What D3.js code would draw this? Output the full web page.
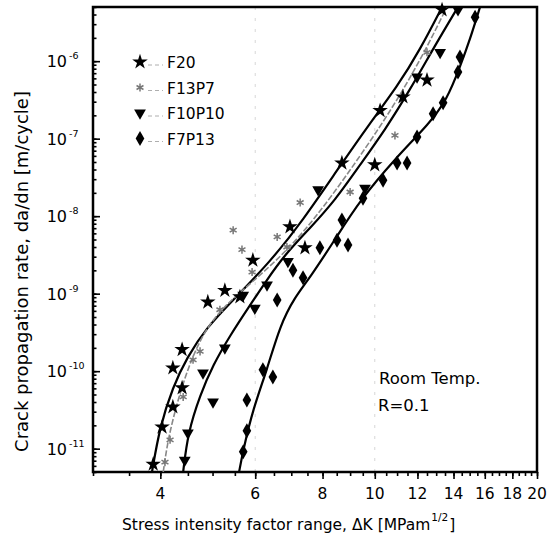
<!DOCTYPE html>
<html>
<head>
<meta charset="utf-8">
<script src="https://cdn.jsdelivr.net/npm/d3@7"></script>
<style>
  body { margin: 0; background: #fff; overflow: hidden; }
  svg { display: block; }
</style>
</head>
<body>
<svg id="chart" width="556" height="551"></svg>
<script>
// series labels, same order as the legend
const seriesNames = ["F20", "F13P7", "F10P10", "F7P13"];

// measured points: stress intensity range (MPa m^1/2) and crack rate (m/cycle)
const f20K    = [3.88, 4.03, 4.22, 4.39, 4.22, 4.39, 4.90, 5.27, 5.62, 5.94, 6.96, 7.42, 8.69, 10.0, 10.23, 11.28, 12.5, 13.33];
const f20Rate = [6.3e-12, 1.9e-11, 3.45e-11, 6.1e-11, 1.1e-10, 1.9e-10, 7.8e-10, 1.1e-9, 9.1e-10, 2.7e-9, 7.3e-9, 3.9e-9, 4.85e-8, 4.6e-8, 2.3e-7, 3.45e-7, 5.7e-7, 4.6e-6];

const f13K    = [4.08, 4.17, 4.41, 4.60, 4.74, 5.16, 5.46, 5.67, 5.92, 6.59, 6.87, 7.27, 9.0, 10.9, 12.5];
const f13Rate = [6.7e-12, 1.3e-11, 4.65e-11, 1.4e-10, 1.8e-10, 6.2e-10, 6.6e-9, 3.7e-9, 1.9e-9, 5.4e-9, 4.0e-9, 1.5e-8, 2.05e-8, 1.1e-7, 1.3e-6];

const f10K    = [4.44, 4.50, 5.01, 4.80, 5.27, 5.99, 5.70, 6.31, 6.90, 7.85, 9.59, 11.98, 13.22, 14.27];
const f10Rate = [7.1e-12, 1.6e-11, 4.0e-11, 9.5e-11, 2.0e-10, 6.5e-10, 9.6e-10, 1.3e-9, 2.6e-9, 2.2e-8, 2.3e-8, 6.25e-7, 1.3e-6, 4.6e-6];

const f7K    = [5.70, 5.79, 5.79, 6.20, 6.47, 6.59, 7.05, 7.36, 7.91, 8.51, 8.92, 8.69, 9.51, 10.36, 11.0, 11.48, 11.98, 12.83, 13.39, 14.27, 14.39, 15.35];
const f7Rate = [9.1e-12, 1.7e-11, 4.25e-11, 1.04e-10, 8.4e-11, 8.3e-10, 2.0e-9, 1.6e-9, 3.9e-9, 4.9e-9, 4.25e-9, 8.9e-9, 1.7e-8, 2.9e-8, 4.85e-8, 4.85e-8, 1.05e-7, 2.1e-7, 2.9e-7, 7.25e-7, 1.13e-6, 3.7e-6];

// fitted curves
const f20FitK    = [3.86, 3.99, 4.22, 4.48, 4.88, 5.46, 6.39, 7.36, 8.51, 9.80, 11.0, 12.13, 13.33];
const f20FitRate = [5e-12, 1.9e-11, 6.25e-11, 1.5e-10, 3.7e-10, 8.3e-10, 2.56e-9, 8.9e-9, 3.9e-8, 1.6e-7, 4.65e-7, 1.4e-6, 5e-6];

const f13FitK    = [4.05, 4.13, 4.31, 4.54, 4.84, 5.27, 5.99, 6.96, 7.91, 9.0, 10.23, 11.38, 12.55, 13.61];
const f13FitRate = [5e-12, 1.3e-11, 4.25e-11, 1.3e-10, 3.4e-10, 7.1e-10, 1.5e-9, 3.9e-9, 1.13e-8, 3.9e-8, 1.42e-7, 4.65e-7, 1.6e-6, 5e-6];

const f10FitK    = [4.41, 4.50, 4.74, 5.01, 5.39, 5.87, 6.26, 6.81, 7.58, 8.44, 9.39, 10.45, 11.62, 12.94, 14.27];
const f10FitRate = [5e-12, 1.6e-11, 4.9e-11, 1.2e-10, 2.9e-10, 7.1e-10, 1.4e-9, 3.2e-9, 7.0e-9, 1.6e-8, 4.6e-8, 1.3e-7, 4.25e-7, 1.6e-6, 5e-6];

const f7FitK    = [5.60, 5.70, 5.94, 6.31, 6.67, 7.11, 7.58, 8.51, 9.39, 10.90, 12.66, 13.61, 14.39, 15.02, 15.68];
const f7FitRate = [5e-12, 9.6e-12, 3.2e-11, 1.04e-10, 3.9e-10, 9.1e-10, 1.6e-9, 5.5e-9, 1.6e-8, 5.5e-8, 1.6e-7, 3.2e-7, 8.4e-7, 1.9e-6, 5e-6];

// axis ticks
const xTickLabels = [4, 6, 8, 10, 12, 14, 16, 18, 20];
const yDecades = [-11, -10, -9, -8, -7, -6];

const width = 556;
const height = 551;
const margin = { top: 7, right: 19, bottom: 79, left: 93 };
const innerWidth = width - margin.left - margin.right;
const innerHeight = height - margin.top - margin.bottom;
const font = "'DejaVu Sans', sans-serif";

const svg = d3.select("#chart");
const g = svg.append("g").attr("transform", `translate(${margin.left},${margin.top})`);

const x = d3.scaleLog().domain([3, 20]).range([0, innerWidth]);
const y = d3.scaleLog().domain([5e-12, 5e-6]).range([innerHeight, 0]);

// faint dashed vertical grid, like the scanned original
g.append("g").selectAll("line")
  .data([6, 10])
  .enter().append("line")
  .attr("x1", d => x(d)).attr("x2", d => x(d))
  .attr("y1", 0).attr("y2", innerHeight)
  .attr("stroke", "#bbb").attr("stroke-width", 0.6)
  .attr("stroke-dasharray", "3,8");

// y axis: minor log ticks inward
const yMinor = [];
yDecades.concat([-12]).forEach(e => {
  for (let m = 1; m <= 9; m++) {
    const v = m * Math.pow(10, e);
    if (v >= 5e-12 && v <= 5e-6) yMinor.push(v);
  }
});
g.append("g")
  .call(d3.axisLeft(y).tickValues(yMinor).tickSize(-3.5).tickFormat(""))
  .call(a => a.select(".domain").remove());
g.append("g")
  .call(d3.axisLeft(y).tickValues(yDecades.map(e => Math.pow(10, e))).tickSize(-7).tickFormat(""))
  .call(a => a.select(".domain").remove());

// y tick labels: "10" plus a separate superscript exponent
g.append("g").selectAll("text")
  .data(yDecades)
  .enter().append("text")
  .attr("x", -26)
  .attr("y", d => y(Math.pow(10, d)) + 6)
  .attr("text-anchor", "end")
  .attr("font-family", font)
  .attr("font-size", 16)
  .text("10");
g.append("g").selectAll("text")
  .data(yDecades)
  .enter().append("text")
  .attr("x", -24)
  .attr("y", d => y(Math.pow(10, d)) - 2)
  .attr("font-family", font)
  .attr("font-size", 9.5)
  .text(d => d);

// x axis: ticks every 0.5 outward, longer ticks at labels
const xMinor = d3.range(3, 20.01, 0.5);
g.append("g")
  .attr("transform", `translate(0,${innerHeight})`)
  .call(d3.axisBottom(x).tickValues(xMinor).tickSize(4).tickFormat(""))
  .call(a => a.select(".domain").remove());
g.append("g")
  .attr("transform", `translate(0,${innerHeight})`)
  .call(d3.axisBottom(x).tickValues(xTickLabels).tickSize(7).tickFormat(""))
  .call(a => a.select(".domain").remove());

g.selectAll(".tick line").attr("stroke", "#000").attr("stroke-width", 1.6);

// x tick labels as plain text
g.append("g").selectAll("text")
  .data(xTickLabels)
  .enter().append("text")
  .attr("x", d => x(d))
  .attr("y", innerHeight + 27)
  .attr("text-anchor", "middle")
  .attr("font-family", font)
  .attr("font-size", 15.5)
  .text(d => d);

// frame
g.append("rect")
  .attr("width", innerWidth).attr("height", innerHeight)
  .attr("fill", "none").attr("stroke", "#000").attr("stroke-width", 2.5);

// fitted curves
const line = d3.line()
  .x(d => x(d[0])).y(d => y(d[1]))
  .curve(d3.curveBasis);
const zip = (a, b) => a.map((v, i) => [v, b[i]]);

const fits = [
  { pts: zip(f20FitK, f20FitRate), color: "#000", w: 2.2, dash: null },
  { pts: zip(f13FitK, f13FitRate), color: "#888", w: 1.6, dash: "6,2" },
  { pts: zip(f10FitK, f10FitRate), color: "#000", w: 2.2, dash: null },
  { pts: zip(f7FitK, f7FitRate), color: "#000", w: 2.2, dash: null }
];
svg.append("defs").append("clipPath").attr("id", "plot")
  .append("rect").attr("width", innerWidth).attr("height", innerHeight);

g.append("g").attr("clip-path", "url(#plot)")
  .selectAll("path")
  .data(fits)
  .enter().append("path")
  .attr("d", d => line(d.pts))
  .attr("fill", "none")
  .attr("stroke", d => d.color)
  .attr("stroke-width", d => d.w)
  .attr("stroke-dasharray", d => d.dash);

// markers
const markerStyle = [
  { type: d3.symbolStar, size: 75, fill: "#000", stroke: "none", rot: 0 },
  { type: d3.symbolAsterisk, size: 45, fill: "none", stroke: "#777", rot: 0 },
  { type: d3.symbolTriangle, size: 60, fill: "#000", stroke: "none", rot: 180 },
  { type: d3.symbolDiamond, size: 65, fill: "#000", stroke: "none", rot: 0 }
];
const pointSets = [zip(f20K, f20Rate), zip(f13K, f13Rate), zip(f10K, f10Rate), zip(f7K, f7Rate)];

pointSets.forEach((pts, i) => {
  const s = markerStyle[i];
  g.append("g").selectAll("path")
    .data(pts)
    .enter().append("path")
    .attr("d", d3.symbol().type(s.type).size(s.size))
    .attr("transform", d => `translate(${x(d[0])},${y(d[1])}) rotate(${s.rot})`)
    .attr("fill", s.fill)
    .attr("stroke", s.stroke)
    .attr("stroke-width", 1.5);
});

// legend: symbol, short dashed sample, label
const legendX = 140, legendY = 62, legendStep = 25.5;
svg.append("g").selectAll("path")
  .data(seriesNames)
  .enter().append("path")
  .attr("d", (d, i) => d3.symbol().type(markerStyle[i].type).size(markerStyle[i].size)())
  .attr("transform", (d, i) => `translate(${legendX},${legendY + i * legendStep}) rotate(${markerStyle[i].rot})`)
  .attr("fill", (d, i) => markerStyle[i].fill)
  .attr("stroke", (d, i) => markerStyle[i].stroke)
  .attr("stroke-width", 1.5);
svg.append("g").selectAll("line")
  .data(seriesNames)
  .enter().append("line")
  .attr("x1", legendX + 8).attr("x2", legendX + 23)
  .attr("y1", (d, i) => legendY + i * legendStep + 3)
  .attr("y2", (d, i) => legendY + i * legendStep + 3)
  .attr("stroke", "#999").attr("stroke-width", 0.8)
  .attr("stroke-dasharray", "4,3");
svg.append("g").selectAll("text")
  .data(seriesNames)
  .enter().append("text")
  .attr("x", legendX + 27)
  .attr("y", (d, i) => legendY + i * legendStep + 6)
  .attr("font-family", font).attr("font-size", 15.5)
  .text(d => d);

// annotations
svg.append("text").attr("x", 379).attr("y", 384)
  .attr("font-family", font).attr("font-size", 16.5).text("Room Temp.");
svg.append("text").attr("x", 378).attr("y", 411)
  .attr("font-family", font).attr("font-size", 16.5).text("R=0.1");

// x axis title, superscript placed after the measured main text
const xTitle = svg.append("text")
  .attr("x", 122).attr("y", 530)
  .attr("font-family", font).attr("font-size", 15.5)
  .text("Stress intensity factor range, \u0394K [MPam");
const xEnd = 122 + xTitle.node().getComputedTextLength();
const xSup = svg.append("text")
  .attr("x", xEnd + 1).attr("y", 521)
  .attr("font-family", font).attr("font-size", 10.5)
  .text("1/2");
svg.append("text")
  .attr("x", xEnd + 2 + xSup.node().getComputedTextLength()).attr("y", 530)
  .attr("font-family", font).attr("font-size", 15.5)
  .text("]");

svg.append("text")
  .attr("transform", `translate(28,${margin.top + innerHeight / 2 + 32}) rotate(-90)`)
  .attr("text-anchor", "middle")
  .attr("font-family", font).attr("font-size", 18)
  .text("Crack propagation rate, da/dn [m/cycle]");
</script>
</body>
</html>
